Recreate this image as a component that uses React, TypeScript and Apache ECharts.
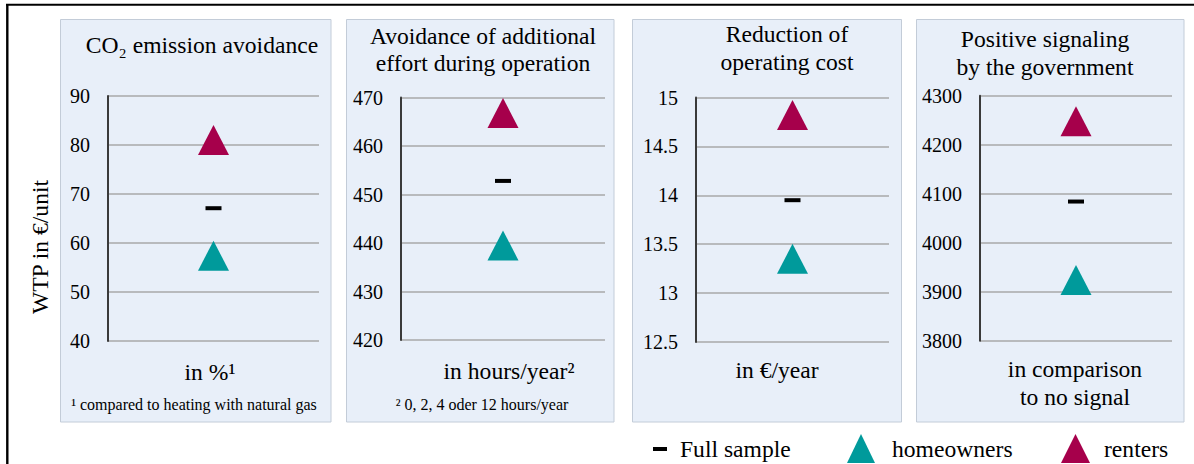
import React, { useEffect, useRef } from "react";
import * as echarts from "echarts";

// ---- data ----
const panelTitles = [
  "CO₂ emission avoidance",
  "Avoidance of additional\neffort during operation",
  "Reduction of\noperating cost",
  "Positive signaling\nby the government",
];
const unitLabels = ["in %¹", "in hours/year²", "in €/year", "in comparison\nto no signal"];
const footnotes = ["¹ compared to heating with natural gas", "² 0, 2, 4 oder 12 hours/year", "", ""];
const yMin = [40, 420, 12.5, 3800];
const yMax = [90, 470, 15, 4300];
const yStep = [10, 10, 0.5, 100];
const fullSample = [67.1, 452.8, 13.95, 4084];
const homeowners = [57.4, 439.5, 13.35, 3924];
const renters = [81.0, 466.8, 14.82, 4248];
const seriesNames = ["Full sample", "homeowners", "renters"];
const yAxisName = "WTP in €/unit";

// ---- layout / style ----
const FONT = "Liberation Serif";
const BIG = 23.6;
const C_FULL = "#000000";
const C_HOME = "#009a9b";
const C_RENT = "#a6004b";
const panelBoxes = [
  { x: 60.5, w: 270.5 },
  { x: 346.5, w: 267.5 },
  { x: 632.5, w: 269 },
  { x: 916.5, w: 267.5 },
];
const gridBoxes = [
  { left: 108, top: 96, width: 211, height: 245 },
  { left: 401, top: 97.5, width: 204, height: 242.5 },
  { left: 696, top: 97.5, width: 193, height: 244.5 },
  { left: 980, top: 95.7, width: 192, height: 245 },
];
const titlePos = [
  { x: 202, y: 44.5, lh: 26 },
  { x: 483, y: 49, lh: 27 },
  { x: 787, y: 48, lh: 28 },
  { x: 1045, y: 53, lh: 28 },
];
const unitPos = [
  { x: 210, y: 372 },
  { x: 509, y: 370.5 },
  { x: 777, y: 369.5 },
  { x: 1075, y: 383 },
];
const footPos = [
  { x: 194, y: 404.5 },
  { x: 482, y: 404.5 },
];

export default function App() {
  const ref = useRef<HTMLDivElement>(null);
  useEffect(() => {
    if (!ref.current) return;
    const chart = echarts.init(ref.current, undefined, { renderer: "svg" });

    const grid = gridBoxes.map((g) => ({ ...g }));
    const xAxis = gridBoxes.map((_, i) => ({
      type: "category",
      gridIndex: i,
      data: [""],
      axisLine: { show: false },
      axisTick: { show: false },
      axisLabel: { show: false },
      splitLine: { show: false },
    }));
    const yAxis = gridBoxes.map((_, i) => ({
      type: "value",
      gridIndex: i,
      min: yMin[i],
      max: yMax[i],
      interval: yStep[i],
      axisLine: { show: true, onZero: false, lineStyle: { color: "#3a3a3a", width: 2 } },
      axisTick: { show: false },
      splitLine: { show: true, lineStyle: { color: "#a8a8a8", width: 1.5 } },
      axisLabel: {
        fontSize: 20,
        color: "#000",
        fontFamily: FONT,
        margin: 18,
        formatter: (v: number) => String(v),
      },
    }));

    const series: any[] = [];
    gridBoxes.forEach((_, i) => {
      series.push({
        type: "scatter",
        name: seriesNames[1],
        xAxisIndex: i,
        yAxisIndex: i,
        symbol: "triangle",
        symbolSize: [31, 30],
        itemStyle: { color: C_HOME, opacity: 1 },
        data: [[0, homeowners[i]]],
      });
      series.push({
        type: "scatter",
        name: seriesNames[2],
        xAxisIndex: i,
        yAxisIndex: i,
        symbol: "triangle",
        symbolSize: [31, 30],
        itemStyle: { color: C_RENT, opacity: 1 },
        data: [[0, renters[i]]],
      });
      series.push({
        type: "scatter",
        name: seriesNames[0],
        xAxisIndex: i,
        yAxisIndex: i,
        symbol: "rect",
        symbolSize: [16, 4],
        itemStyle: { color: C_FULL, opacity: 1 },
        data: [[0, fullSample[i]]],
      });
    });

    const graphic: any[] = [];
    graphic.push({
      type: "line",
      shape: { x1: 6, y1: 4.7, x2: 1194, y2: 4.7 },
      style: { stroke: "#000", lineWidth: 2 },
      z: 0,
    });
    graphic.push({
      type: "line",
      shape: { x1: 7.3, y1: 4, x2: 7.3, y2: 464 },
      style: { stroke: "#000", lineWidth: 2.4 },
      z: 0,
    });
    panelBoxes.forEach((p) => {
      graphic.push({
        type: "rect",
        shape: { x: p.x, y: 19.5, width: p.w, height: 402.5 },
        style: { fill: "#e8eff9", stroke: "#c3ccd8", lineWidth: 1 },
        z: -10,
        silent: true,
      });
    });
    panelTitles.forEach((t, i) => {
      graphic.push({
        type: "text",
        x: titlePos[i].x,
        y: titlePos[i].y,
        style: {
          text: t,
          fontSize: BIG,
          fontFamily: FONT,
          fill: "#000",
          align: "center",
          verticalAlign: "middle",
          lineHeight: titlePos[i].lh,
        },
      });
    });
    unitLabels.forEach((t, i) => {
      graphic.push({
        type: "text",
        x: unitPos[i].x,
        y: unitPos[i].y,
        style: {
          text: t,
          fontSize: BIG,
          fontFamily: FONT,
          fill: "#000",
          align: "center",
          verticalAlign: "middle",
          lineHeight: 28,
        },
      });
    });
    footnotes.forEach((t, i) => {
      if (!t) return;
      graphic.push({
        type: "text",
        x: footPos[i].x,
        y: footPos[i].y,
        style: {
          text: t,
          fontSize: 16,
          fontFamily: FONT,
          fill: "#000",
          align: "center",
          verticalAlign: "middle",
        },
      });
    });
    graphic.push({
      type: "text",
      x: 40,
      y: 247,
      rotation: Math.PI / 2,
      style: {
        text: yAxisName,
        fontSize: BIG,
        fontFamily: FONT,
        fill: "#000",
        align: "center",
        verticalAlign: "middle",
      },
    });

    const legendBase = {
      orient: "horizontal",
      padding: 0,
      selectedMode: false,
      textStyle: { fontSize: BIG, fontFamily: FONT, color: "#000" },
    };
    const legend = [
      {
        ...legendBase,
        data: [{ name: seriesNames[0], icon: "rect" }],
        left: 653,
        top: 437,
        itemWidth: 14,
        itemHeight: 4,
        textStyle: { ...legendBase.textStyle, padding: [0, 0, 0, 8] },
      },
      {
        ...legendBase,
        data: [{ name: seriesNames[1], icon: "triangle" }],
        left: 847,
        top: 434,
        itemWidth: 28,
        itemHeight: 29,
        textStyle: { ...legendBase.textStyle, padding: [0, 0, 0, 12] },
      },
      {
        ...legendBase,
        data: [{ name: seriesNames[2], icon: "triangle" }],
        left: 1061,
        top: 434,
        itemWidth: 29,
        itemHeight: 29,
        textStyle: { ...legendBase.textStyle, padding: [0, 0, 0, 9] },
      },
    ];

    chart.setOption({
      animation: false,
      backgroundColor: "#ffffff",
      textStyle: { fontFamily: FONT },
      grid,
      xAxis,
      yAxis,
      series,
      legend,
      graphic,
    });
    return () => chart.dispose();
  }, []);

  return (
    <div
      ref={ref}
      style={{ position: "absolute", left: 0, top: 0, width: 1194, height: 464 }}
    />
  );
}
